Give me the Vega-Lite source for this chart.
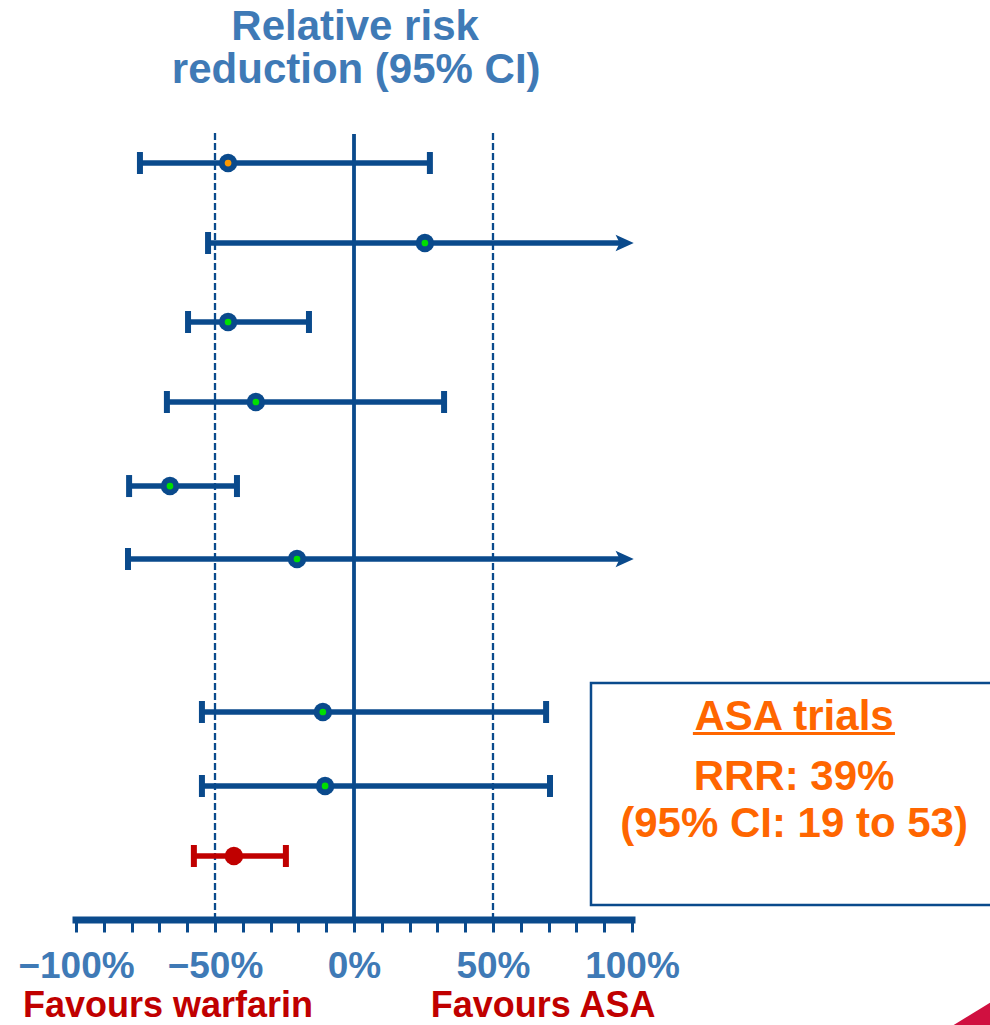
{
  "$schema": "https://vega.github.io/schema/vega-lite/v6.json",
  "width": 990,
  "height": 920,
  "autosize": {"type": "none"},
  "padding": {"left": 0, "top": 0, "right": 0, "bottom": 105},
  "background": "white",
  "config": {"view": {"stroke": null}, "font": "Liberation Sans"},
  "datasets": {
    "trials": [
      {"row": 1, "pos": 2.091, "lo": -77.0, "hi": 27.3, "pt": -45.3, "arrow": false, "group": "trial", "centre": "orange"},
      {"row": 2, "pos": 3.117, "lo": -52.5, "hi": 97, "pt": 25.5, "arrow": true, "group": "trial", "centre": "green"},
      {"row": 3, "pos": 4.130, "lo": -59.7, "hi": -16.2, "pt": -45.3, "arrow": false, "group": "trial", "centre": "green"},
      {"row": 4, "pos": 5.156, "lo": -67.3, "hi": 32.4, "pt": -35.3, "arrow": false, "group": "trial", "centre": "green"},
      {"row": 5, "pos": 6.234, "lo": -80.9, "hi": -42.1, "pt": -66.2, "arrow": false, "group": "trial", "centre": "green"},
      {"row": 6, "pos": 7.170, "lo": -81.3, "hi": 97, "pt": -20.5, "arrow": true, "group": "trial", "centre": "green"},
      {"row": 7, "pos": 9.132, "lo": -54.7, "hi": 69.1, "pt": -11.2, "arrow": false, "group": "trial", "centre": "green"},
      {"row": 8, "pos": 10.081, "lo": -54.7, "hi": 70.5, "pt": -10.4, "arrow": false, "group": "trial", "centre": "green"},
      {"row": 9, "pos": 10.979, "lo": -57.6, "hi": -24.5, "pt": -43.2, "arrow": false, "group": "pooled", "centre": "none"}
    ],
    "refs": [
      {"x": -50, "top": 1.706, "bottom": 11.8, "kind": "dash"},
      {"x": 50, "top": 1.706, "bottom": 11.8, "kind": "dash"},
      {"x": 0, "top": 1.719, "bottom": 11.8, "kind": "solid"}
    ],
    "axisline": [{"from": -100, "to": 100, "y": 11.8}],
    "box": [{"x": 85.25, "x2": 240, "y": 8.76, "y2": 11.608}],
    "underline": [{"from": 121.9, "to": 194.6, "y": 9.408}],
    "boxtext": [
      {"text": "ASA trials", "x": 158.3, "y": 9.363},
      {"text": "RRR: 39%", "x": 158.3, "y": 10.133},
      {"text": "(95% CI: 19 to 53)", "x": 158.3, "y": 10.735}
    ],
    "titletext": [
      {"text": "Relative risk", "x": 0.4, "y": 0.513},
      {"text": "reduction (95% CI)", "x": 0.8, "y": 1.065}
    ],
    "favours": [
      {"text": "Favours warfarin", "x": -66.9, "y": 13.045},
      {"text": "Favours ASA", "x": 68.0, "y": 13.045}
    ],
    "corner": [
      {"x": 213.3, "y": 13.2, "y2": 13.2},
      {"x": 228.8, "y": 12.86, "y2": 13.2}
    ]
  },
  "layer": [
    {
      "data": {"name": "box"},
      "mark": {"type": "rect", "fill": "white", "stroke": "#0a4a8c", "strokeWidth": 2.5},
      "encoding": {
        "x": {"field": "x", "type": "quantitative", "scale": {"domain": [-127.34, 228.78], "nice": false, "zero": false},
          "axis": {"orient": "bottom", "domain": false, "grid": false, "title": null,
            "values": [-100, -90, -80, -70, -60, -50, -40, -30, -20, -10, 0, 10, 20, 30, 40, 50, 60, 70, 80, 90, 100],
            "tickSize": 12, "tickWidth": 3, "tickColor": "#0a4a8c",
            "labelExpr": "datum.value % 50 === 0 ? (datum.value < 0 ? '\u2212' + abs(datum.value) + '%' : datum.value + '%') : ''",
            "labelFont": "Liberation Sans", "labelFontSize": 37, "labelFontWeight": "bold", "labelColor": "#3f7ab6",
            "labelPadding": 16, "labelFlush": false, "labelOverlap": false, "labelBound": false}},
        "x2": {"field": "x2"},
        "y": {"field": "y", "type": "quantitative", "scale": {"domain": [0, 11.8], "reverse": true, "nice": false, "zero": false}, "axis": null},
        "y2": {"field": "y2"}
      }
    },
    {
      "data": {"name": "corner"},
      "mark": {"type": "area", "color": "#d01040", "orient": "vertical"},
      "encoding": {
        "x": {"field": "x", "type": "quantitative"},
        "y": {"field": "y", "type": "quantitative"},
        "y2": {"field": "y2"}
      }
    },
    {
      "data": {"name": "refs"},
      "transform": [{"filter": "datum.kind === 'dash'"}],
      "mark": {"type": "rule", "color": "#0a4a8c", "strokeWidth": 2.3, "strokeDash": [7, 3]},
      "encoding": {
        "x": {"field": "x", "type": "quantitative"},
        "y": {"field": "top", "type": "quantitative"},
        "y2": {"field": "bottom"}
      }
    },
    {
      "data": {"name": "refs"},
      "transform": [{"filter": "datum.kind === 'solid'"}],
      "mark": {"type": "rule", "color": "#0a4a8c", "strokeWidth": 3.8},
      "encoding": {
        "x": {"field": "x", "type": "quantitative"},
        "y": {"field": "top", "type": "quantitative"},
        "y2": {"field": "bottom"}
      }
    },
    {
      "data": {"name": "axisline"},
      "mark": {"type": "rule", "color": "#0a4a8c", "strokeWidth": 7, "strokeCap": "square"},
      "encoding": {
        "x": {"field": "from", "type": "quantitative"},
        "x2": {"field": "to"},
        "y": {"field": "y", "type": "quantitative"}
      }
    },
    {
      "data": {"name": "trials"},
      "mark": {"type": "rule", "strokeWidth": 5.5},
      "encoding": {
        "x": {"field": "lo", "type": "quantitative"},
        "x2": {"field": "hi"},
        "y": {"field": "pos", "type": "quantitative"},
        "color": {"field": "group", "type": "nominal", "scale": {"domain": ["trial", "pooled"], "range": ["#0a4a8c", "#c00000"]}, "legend": null}
      }
    },
    {
      "data": {"name": "trials"},
      "mark": {"type": "tick", "orient": "vertical", "size": 22, "thickness": 6, "opacity": 1},
      "encoding": {
        "x": {"field": "lo", "type": "quantitative"},
        "y": {"field": "pos", "type": "quantitative"},
        "color": {"field": "group", "type": "nominal", "legend": null}
      }
    },
    {
      "data": {"name": "trials"},
      "transform": [{"filter": "!datum.arrow"}],
      "mark": {"type": "tick", "orient": "vertical", "size": 22, "thickness": 6, "opacity": 1},
      "encoding": {
        "x": {"field": "hi", "type": "quantitative"},
        "y": {"field": "pos", "type": "quantitative"},
        "color": {"field": "group", "type": "nominal", "legend": null}
      }
    },
    {
      "data": {"name": "trials"},
      "transform": [{"filter": "datum.arrow"}],
      "mark": {"type": "point", "shape": "M -1 -0.9 L 1 0 L -1 0.9 L -0.55 0 Z", "size": 330, "filled": true, "opacity": 1, "xOffset": 1, "color": "#0a4a8c"},
      "encoding": {
        "x": {"field": "hi", "type": "quantitative"},
        "y": {"field": "pos", "type": "quantitative"}
      }
    },
    {
      "data": {"name": "trials"},
      "mark": {"type": "circle", "size": 340, "opacity": 1},
      "encoding": {
        "x": {"field": "pt", "type": "quantitative"},
        "y": {"field": "pos", "type": "quantitative"},
        "color": {"field": "group", "type": "nominal", "legend": null}
      }
    },
    {
      "data": {"name": "trials"},
      "transform": [{"filter": "datum.centre !== 'none'"}],
      "mark": {"type": "point", "shape": "circle", "filled": true, "size": 45, "opacity": 1},
      "encoding": {
        "x": {"field": "pt", "type": "quantitative"},
        "y": {"field": "pos", "type": "quantitative"},
        "fill": {"field": "centre", "type": "nominal", "scale": {"domain": ["green", "orange"], "range": ["#00e000", "#ff9900"]}, "legend": null}
      }
    },
    {
      "data": {"name": "titletext"},
      "mark": {"type": "text", "font": "Liberation Sans", "fontSize": 42, "fontWeight": "bold", "color": "#3f7ab6", "align": "center", "baseline": "alphabetic"},
      "encoding": {
        "x": {"field": "x", "type": "quantitative"},
        "y": {"field": "y", "type": "quantitative"},
        "text": {"field": "text"}
      }
    },
    {
      "data": {"name": "boxtext"},
      "mark": {"type": "text", "font": "Liberation Sans", "fontSize": 42, "fontWeight": "bold", "color": "#ff6600", "align": "center", "baseline": "alphabetic"},
      "encoding": {
        "x": {"field": "x", "type": "quantitative"},
        "y": {"field": "y", "type": "quantitative"},
        "text": {"field": "text"}
      }
    },
    {
      "data": {"name": "underline"},
      "mark": {"type": "rule", "color": "#ff6600", "strokeWidth": 3},
      "encoding": {
        "x": {"field": "from", "type": "quantitative"},
        "x2": {"field": "to"},
        "y": {"field": "y", "type": "quantitative"}
      }
    },
    {
      "data": {"name": "favours"},
      "mark": {"type": "text", "font": "Liberation Sans", "fontSize": 36, "fontWeight": "bold", "color": "#c00000", "align": "center", "baseline": "alphabetic"},
      "encoding": {
        "x": {"field": "x", "type": "quantitative"},
        "y": {"field": "y", "type": "quantitative"},
        "text": {"field": "text"}
      }
    }
  ]
}
